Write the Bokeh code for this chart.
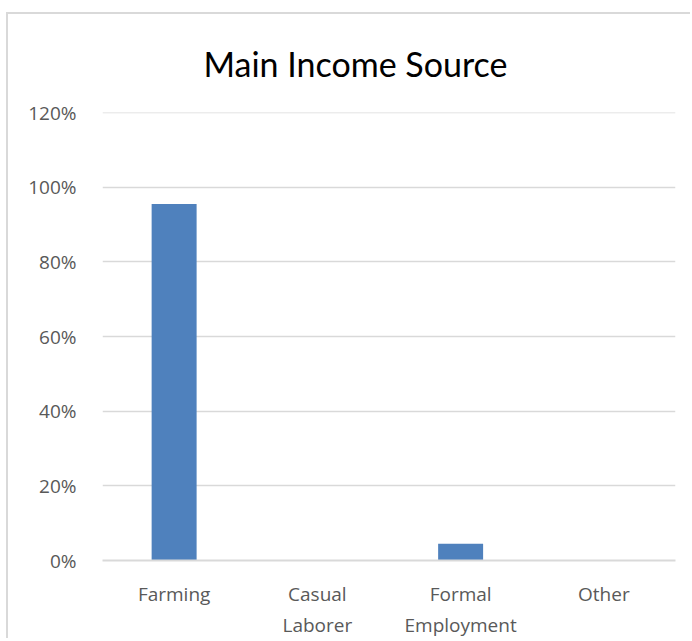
from bokeh.plotting import figure
from bokeh.models import NumeralTickFormatter, FixedTicker, ColumnDataSource
from bokeh.embed import file_html
from bokeh.resources import INLINE

title_text = "Main Income Source"
categories = ["Farming", "Casual\nLaborer", "Formal\nEmployment", "Other"]
shares = [0.955, 0.0, 0.045, 0.0]
y_ticks = [0, 0.2, 0.4, 0.6, 0.8, 1.0, 1.2]

src = ColumnDataSource(data=dict(cat=categories, share=shares))

p = figure(x_range=categories, y_range=(0, 1.2005), width=684, height=626,
           output_backend="svg", toolbar_location=None, title=title_text)
p.margin = (12, 0, 0, 6)
p.styles = {"border-top": "2px solid #d9d9d9", "border-left": "2px solid #d9d9d9"}
p.min_border_left = 94
p.min_border_right = 17
p.min_border_top = 98
p.min_border_bottom = 78
p.outline_line_color = None
p.background_fill_color = "white"
p.border_fill_color = "white"

p.vbar(x="cat", top="share", width=0.314, source=src, color="#4f81bd", line_color=None)

p.title.text_font = "Lato"
p.title.text_font_size = "34px"
p.title.text_font_style = "normal"
p.title.text_color = "#000000"
p.title.align = "left"
p.title.offset = 101
p.title.vertical_align = "top"
p.title.standoff = 54

p.yaxis.ticker = FixedTicker(ticks=y_ticks)
p.yaxis.formatter = NumeralTickFormatter(format="0%")
p.yaxis.axis_line_color = None
p.yaxis.major_tick_line_color = None
p.yaxis.minor_tick_line_color = None
p.yaxis.major_label_text_font = "Open Sans"
p.yaxis.major_label_text_font_size = "19px"
p.yaxis.major_label_text_color = "#595959"
p.yaxis.major_label_standoff = 20

p.xaxis.axis_line_color = "#d9d9d9"
p.xaxis.axis_line_width = 2
p.xaxis.major_tick_line_color = None
p.xaxis.minor_tick_line_color = None
p.xaxis.major_label_text_font = "Open Sans"
p.xaxis.major_label_text_font_size = "19px"
p.xaxis.major_label_text_color = "#595959"
p.xaxis.major_label_standoff = 14
p.xaxis.major_label_text_line_height = 1.2

p.xgrid.grid_line_color = None
p.ygrid.grid_line_color = "#d9d9d9"
p.ygrid.grid_line_width = 1.5

open("out.html", "w").write(file_html(p, INLINE))
